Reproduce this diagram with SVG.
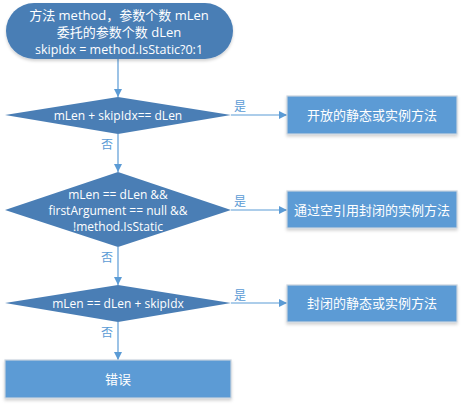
<svg xmlns="http://www.w3.org/2000/svg" width="463" height="406" viewBox="0 0 463 406">
<style>
text{font-family:"Segoe UI","Open Sans","Noto Sans CJK SC",sans-serif;fill:#fff;text-anchor:middle;dominant-baseline:central}
.dk{fill:#4A7EB5}
.bx{fill:#5B9BD5;stroke:#C9D3DE;stroke-width:1.2}
.ln{stroke:#5B9BD5;stroke-width:1.2;fill:none}
.lb{fill:#5B9BD5;font-size:12px}
.t13{font-size:13px}
.t12{font-size:12px}
</style>
<defs>
<marker id="ah" viewBox="0 0 10 10" refX="10" refY="5" markerWidth="8" markerHeight="8" markerUnits="userSpaceOnUse" orient="auto">
<path d="M0,0 L10,5 L0,10 z" fill="#5B9BD5"/>
</marker>
<filter id="sh" x="-10%" y="-10%" width="120%" height="130%">
<feDropShadow dx="0" dy="2" stdDeviation="1.5" flood-color="#000" flood-opacity="0.18"/>
</filter>
</defs>
<g id="connectors">
<line class="ln" x1="118" y1="59" x2="118" y2="97" marker-end="url(#ah)"/>
<line class="ln" x1="231" y1="115" x2="287" y2="115" marker-end="url(#ah)"/>
<line class="ln" x1="118" y1="134" x2="118" y2="172" marker-end="url(#ah)"/>
<line class="ln" x1="231" y1="210" x2="287" y2="210" marker-end="url(#ah)"/>
<line class="ln" x1="118" y1="247" x2="118" y2="285" marker-end="url(#ah)"/>
<line class="ln" x1="231" y1="303" x2="287" y2="303" marker-end="url(#ah)"/>
<line class="ln" x1="118" y1="322" x2="118" y2="360" marker-end="url(#ah)"/>
<text class="lb" x="240" y="106">是</text>
<text class="lb" x="107" y="144">否</text>
<text class="lb" x="240" y="201">是</text>
<text class="lb" x="107" y="257">否</text>
<text class="lb" x="240" y="295">是</text>
<text class="lb" x="107" y="332">否</text>
</g>
<g id="start">
<rect class="dk" x="6" y="3" width="227" height="56" rx="28" ry="28" filter="url(#sh)"/>
<text class="t13" x="119" y="15">方法 method，参数个数 mLen</text>
<text class="t13" x="119" y="32">委托的参数个数 dLen</text>
<text x="119" y="49" style="font-size:12.5px">skipIdx = method.IsStatic?0:1</text>
</g>
<g id="d1">
<polygon class="dk" points="5,115 118,97 231,115 118,134"/>
<text class="t12" x="118" y="115">mLen + skipIdx== dLen</text>
</g>
<g id="b1">
<rect class="bx" x="287" y="96" width="170" height="38" filter="url(#sh)"/>
<text class="t13" x="372" y="115">开放的静态或实例方法</text>
</g>
<g id="d2">
<polygon class="dk" points="5,210 118,172 231,210 118,247"/>
<text class="t12" x="118" y="194">mLen == dLen &amp;&amp;</text>
<text class="t12" x="118" y="210">firstArgument == null &amp;&amp;</text>
<text class="t12" x="118" y="226">!method.IsStatic</text>
</g>
<g id="b2">
<rect class="bx" x="287" y="191" width="170" height="37" filter="url(#sh)"/>
<text class="t13" x="372" y="210">通过空引用封闭的实例方法</text>
</g>
<g id="d3">
<polygon class="dk" points="5,303 118,285 231,303 118,322"/>
<text class="t12" x="118" y="303">mLen == dLen + skipIdx</text>
</g>
<g id="b3">
<rect class="bx" x="287" y="285" width="170" height="37" filter="url(#sh)"/>
<text class="t13" x="372" y="303">封闭的静态或实例方法</text>
</g>
<g id="err">
<rect class="bx" x="5" y="360" width="226" height="38" filter="url(#sh)"/>
<text class="t13" x="118" y="379">错误</text>
</g>
</svg>
